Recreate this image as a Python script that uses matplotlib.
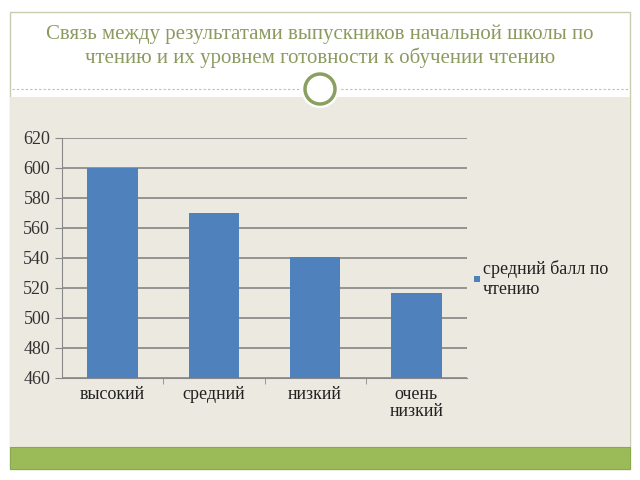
import matplotlib.pyplot as plt
import matplotlib.patches as mpatches
from matplotlib.lines import Line2D

categories = ["высокий", "средний", "низкий", "очень\nнизкий"]
scores = [600, 570, 541, 517]
series_name = "средний балл по\nчтению"
title = ("Связь между результатами выпускников начальной школы по\n"
         "чтению и их уровнем готовности к обучении чтению")

plt.rcParams['font.family'] = ['Liberation Serif', 'DejaVu Serif']

W, H = 640, 480
fig = plt.figure(figsize=(6.4, 4.8), dpi=100)
fig.patch.set_facecolor('white')

def box(x, y, w, h, **kw):
    # pixel coordinates from top-left
    fig.patches.append(mpatches.Rectangle((x / W, 1 - (y + h) / H), w / W, h / H,
                                          transform=fig.transFigure, zorder=-2, **kw))

# slide frame
box(10, 12, 620, 457, facecolor='white', edgecolor='#c9cdb0', linewidth=1)
box(10, 97, 620, 350, facecolor='#eceae0', edgecolor='none')
box(10, 447, 620, 22, facecolor='#9bbb59', edgecolor='#8aa84c', linewidth=0.8)

# dashed separator and circle ornament
fig.add_artist(Line2D([12 / W, 628 / W], [1 - 89 / H] * 2, color='#bbbbbb',
                      linestyle=(0, (2, 2)), linewidth=0.8, transform=fig.transFigure,
                      zorder=-1))
fig.patches.append(mpatches.Ellipse((320 / W, 1 - 89 / H), 38 / W, 38 / H,
                                    transform=fig.transFigure, facecolor='white',
                                    edgecolor='none', zorder=-1))
fig.patches.append(mpatches.Ellipse((320 / W, 1 - 89 / H), 30 / W, 30 / H,
                                    transform=fig.transFigure, facecolor='white',
                                    edgecolor='#8aa060', linewidth=2.5, zorder=-1))

fig.text(0.5, 1 - 46 / H, title, ha='center', va='center', fontsize=15,
         color='#8c9a60', linespacing=1.2)

ax = fig.add_axes([62 / W, 1 - 378 / H, 405 / W, 240 / H])
ax.set_zorder(5)
ax.set_facecolor('none')
x = range(len(categories))
ax.bar(x, scores, width=0.5, color='#4f81bd', zorder=3)
ax.set_ylim(460, 620)
ax.set_xlim(-0.5, len(categories) - 0.5)
ax.set_yticks(range(460, 621, 20))
ax.yaxis.grid(True, color='#8c8c8c', linewidth=1.3, zorder=0)
ax.set_xticks(list(x))
ax.set_xticklabels(categories, fontsize=13, color='#222222', linespacing=1.0)
ax.tick_params(axis='x', length=0, pad=6)
ax.set_xticks([i + 0.5 for i in range(len(categories) - 1)], minor=True)
ax.tick_params(axis='x', which='minor', length=4, color='#888888')
ax.tick_params(axis='y', length=5, color='#888888', labelsize=13, labelcolor='#333333')
for s in ['top', 'right']:
    ax.spines[s].set_visible(False)
ax.spines['left'].set_color('#888888')
ax.spines['bottom'].set_color('#888888')

fig.patches.append(mpatches.Rectangle((474 / W, 1 - 282 / H), 6 / W, 6 / H,
                                      transform=fig.transFigure, facecolor='#4f81bd'))
fig.text(483 / W, 1 - 279 / H, series_name, ha='left', va='center', fontsize=13,
         color='#222222', linespacing=1.2)

fig.savefig('out.png', dpi=100)
